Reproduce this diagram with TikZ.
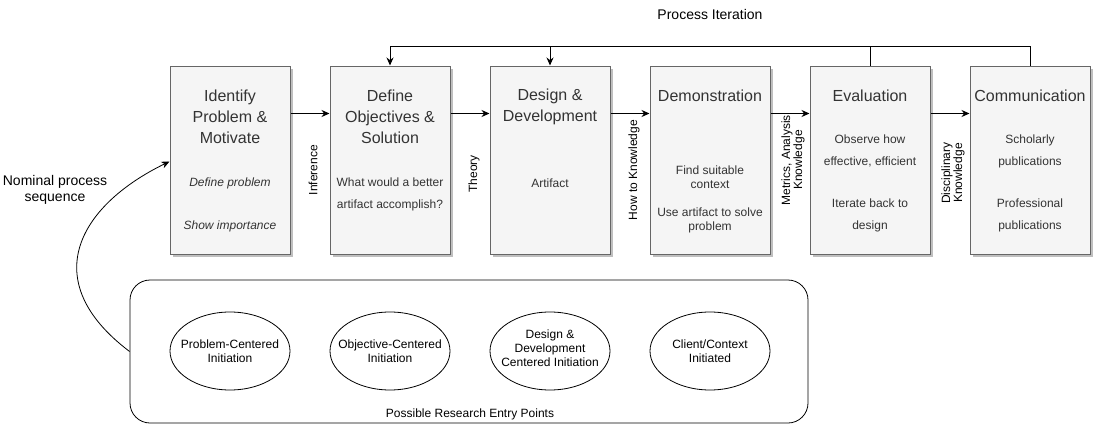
\documentclass[tikz,border=0pt]{standalone}
\usepackage{fontspec}
\setmainfont{Liberation Sans}
\usetikzlibrary{arrows.meta,shadows,shapes.geometric}
\definecolor{boxfill}{HTML}{F5F5F5}
\definecolor{boxline}{HTML}{666666}
\definecolor{boxtext}{HTML}{333333}
\begin{document}
\begin{tikzpicture}[x=1pt,y=-1pt,
  box/.style={draw=boxline, fill=boxfill, line width=1pt, minimum width=120pt, minimum height=188pt, inner sep=0pt,
    drop shadow={shadow xshift=3pt, shadow yshift=-3pt, fill=black!25, opacity=1}},
  ttl/.style={text=boxtext, font=\fontsize{16}{21}\selectfont, align=center, inner sep=0pt},
  sub/.style={text=boxtext, font=\fontsize{12}{22}\selectfont, align=center, inner sep=0pt},
  subtight/.style={text=boxtext, font=\fontsize{12}{14}\selectfont, align=center, inner sep=0pt},
  lbl/.style={font=\fontsize{12}{11}\selectfont, align=center, rotate=90, inner sep=0pt},
  ell/.style={draw, ellipse, line width=0.8pt, fill=white, minimum width=120pt, minimum height=78pt, inner sep=0pt},
  ellt/.style={font=\fontsize{12}{14}\selectfont, align=center, inner sep=0pt},
  plain/.style={font=\fontsize{14}{16}\selectfont, align=center, inner sep=0pt},
  arr/.style={-{Stealth[length=8pt,width=7pt]}, line width=1pt},
  ln/.style={line width=1pt}]
\useasboundingbox (0,0) rectangle (1093,431);

% process boxes
\node[box] (b1) at (230,160) {};
\node[box] (b2) at (390,160) {};
\node[box] (b3) at (550,160) {};
\node[box] (b4) at (710,160) {};
\node[box] (b5) at (870,160) {};
\node[box] (b6) at (1030,160) {};

% titles
\node[ttl] (t1) at (230,117) {Identify\\Problem \&\\Motivate};
\node[ttl] (t2) at (390,117) {Define\\Objectives \&\\Solution};
\node[ttl] (t3) at (550,106.5) {Design \&\\Development};
\node[ttl] (t4) at (710,96) {Demonstration};
\node[ttl] (t5) at (870,96) {Evaluation};
\node[ttl] (t6) at (1030,96) {Communication};

% box contents
\node[sub, font=\fontsize{12}{22}\selectfont\itshape] (s1a) at (230,183) {Define problem};
\node[sub, font=\fontsize{12}{22}\selectfont\itshape] (s1b) at (230,226) {Show importance};
\node[sub] (s2) at (390,194) {What would a better\\artifact accomplish?};
\node[sub] (s3) at (550,183) {Artifact};
\node[subtight] (s4a) at (710,177) {Find suitable\\context};
\node[subtight] (s4b) at (710,220) {Use artifact to solve\\problem};
\node[sub] (s5a) at (870,151) {Observe how\\effective, efficient};
\node[sub] (s5b) at (870,215) {Iterate back to\\design};
\node[sub] (s6a) at (1030,151) {Scholarly\\publications};
\node[sub] (s6b) at (1030,215) {Professional\\publications};

% forward arrows
\draw[arr] ([yshift=-48pt]b1.north east) -- ([yshift=-48pt]b2.north west);
\draw[arr] ([yshift=-48pt]b2.north east) -- ([yshift=-48pt]b3.north west);
\draw[arr] ([yshift=-48pt]b3.north east) -- ([yshift=-48pt]b4.north west);
\draw[arr] ([yshift=-48pt]b4.north east) -- ([yshift=-48pt]b5.north west);
\draw[arr] ([yshift=-48pt]b5.north east) -- ([yshift=-48pt]b6.north west);

% rotated labels
\node[lbl] (l1) at (313,170) {Inference};
\node[lbl] (l2) at (474,174) {Theory};
\node[lbl] (l3) at (634,170) {How to Knowledge};
\node[lbl] (l4) at (793,160) {Metrics, Analysis\\Knowledge};
\node[lbl] (l5) at (953,173) {Disciplinary\\Knowledge};

% process iteration
\coordinate (fbL) at (390,46);
\coordinate (fbR) at (1030,46);
\draw[ln] (b6.north) -- (fbR) -- (fbL);
\draw[arr] (fbL) -- (b2.north);
\draw[ln] (b5.north) -- (b5.north |- fbL);
\draw[arr] (b3.north |- fbL) -- (b3.north);
\node[plain] (pi) at (710,14) {Process Iteration};

% entry points
\node[draw, line width=0.8pt, rounded corners=20pt, minimum width=678pt, minimum height=143pt, inner sep=0pt] (entry) at (469,351.5) {};
\node[ell] (e1) at (230,351) {};
\node[ell] (e2) at (390,351) {};
\node[ell] (e3) at (550,351) {};
\node[ell] (e4) at (710,351) {};
\node[ellt] (e1t) at (e1.center) {Problem-Centered\\Initiation};
\node[ellt] (e2t) at (e2.center) {Objective-Centered\\Initiation};
\node[ellt] (e3t) at ([yshift=3pt]e3.center) {Design \&\\Development\\Centered Initiation};
\node[ellt] (e4t) at (e4.center) {Client/Context\\Initiated};
\node[font=\fontsize{12}{14}\selectfont, inner sep=0pt] (rep) at (470,414) {Possible Research Entry Points};

% nominal sequence
\draw[arr, line width=0.8pt] (entry.west) .. controls (35,280) and (80,205) .. ([yshift=-96pt]b1.north west);
\node[plain] (nps) at (55,190) {Nominal process\\sequence};
\end{tikzpicture}
\end{document}
